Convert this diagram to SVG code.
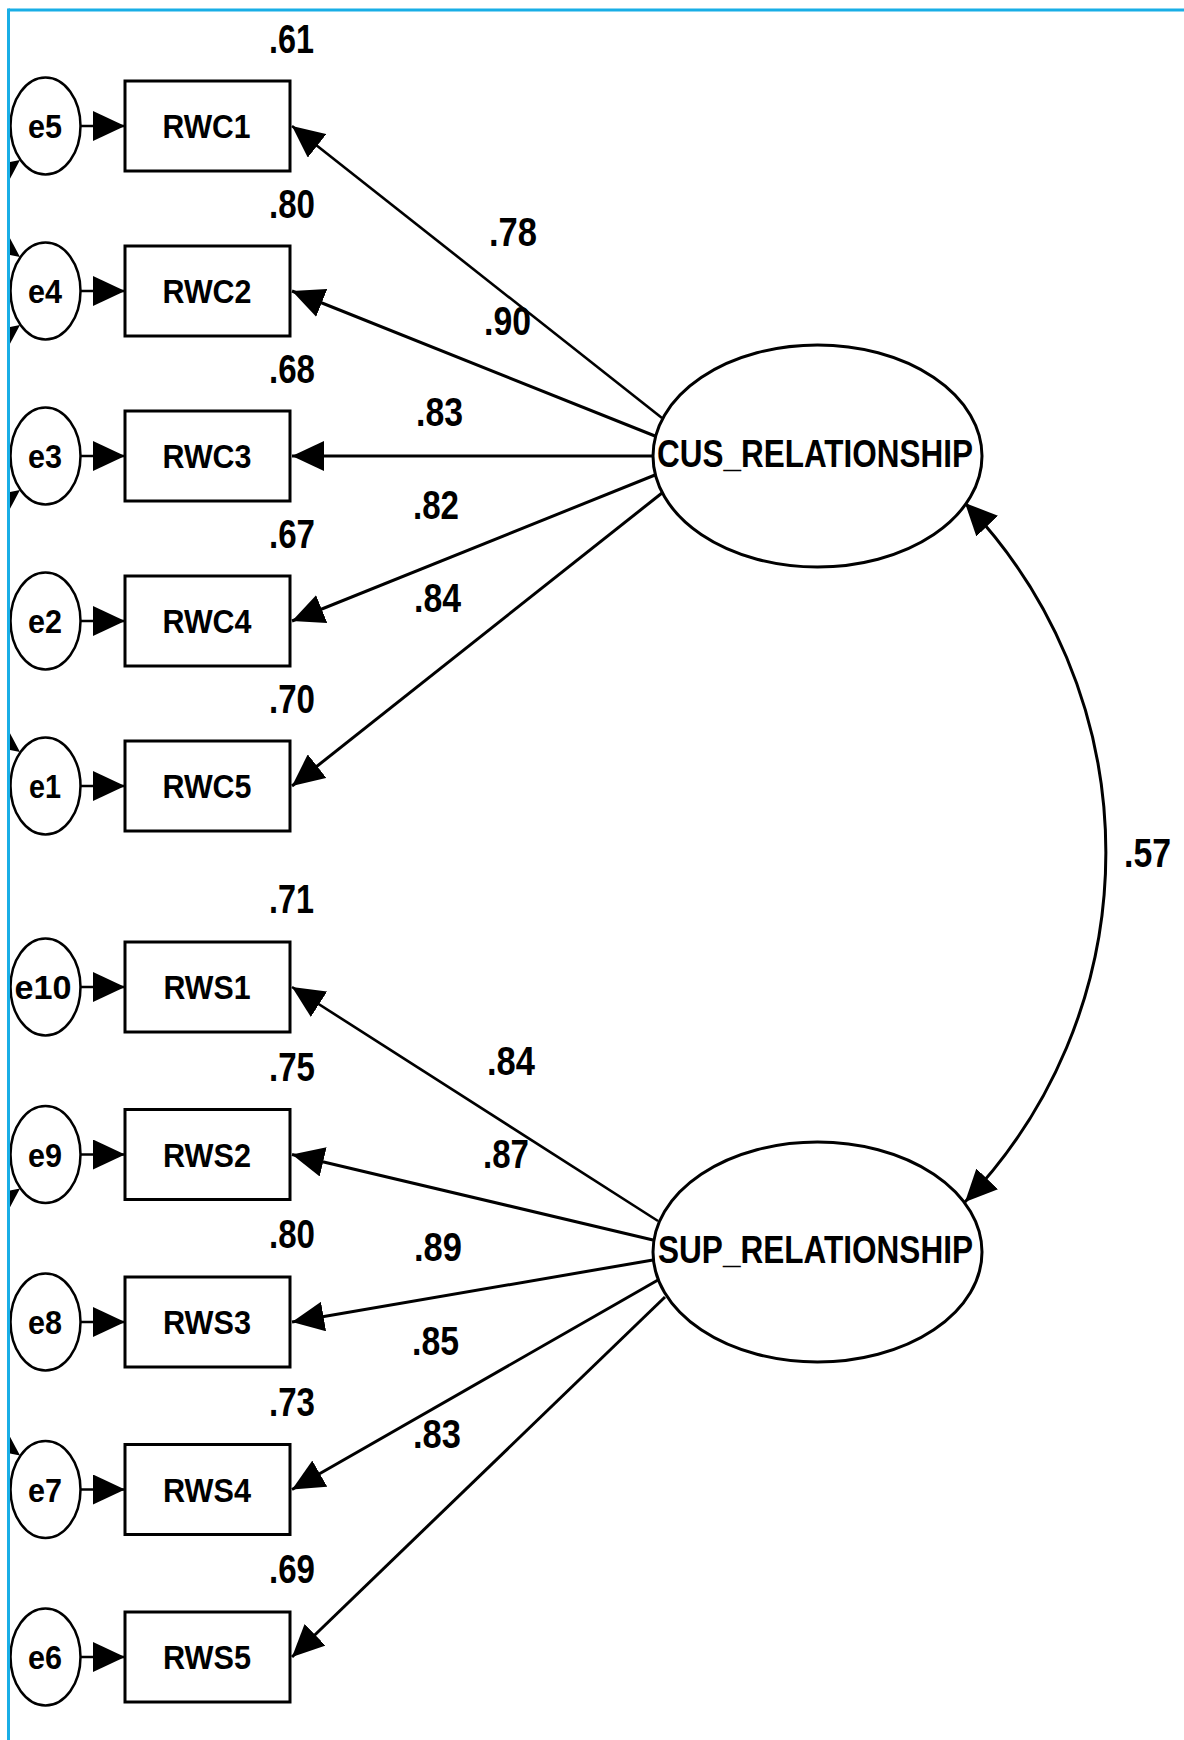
<svg xmlns="http://www.w3.org/2000/svg" width="1184" height="1740" viewBox="0 0 1184 1740">
  <style>
    .box { fill: #fff; stroke: #000; stroke-width: 3; }
    .err { fill: #fff; stroke: #000; stroke-width: 2.5; }
    .lat { fill: #fff; stroke: #000; stroke-width: 3; }
    .t { font-family: "Liberation Sans", Arial, sans-serif; font-weight: bold; fill: #000; }
    .lbl { font-size: 34px; text-anchor: middle; }
    .num { font-size: 41px; }
    .big { font-size: 38px; text-anchor: middle; }
    .path { fill: none; stroke: #000; stroke-width: 3; marker-end: url(#head); }
    .thin { stroke-width: 2.6; }
    .eline { fill: none; stroke: #000; stroke-width: 2.5; marker-end: url(#head); }
    .frame { stroke: #19aee6; stroke-width: 3; fill: none; }
  </style>
  <defs>
    <marker id="head" viewBox="0 0 32 30" refX="32" refY="15" markerWidth="32" markerHeight="30" markerUnits="userSpaceOnUse" orient="auto-start-reverse">
      <path d="M0,0 L32,15 L0,30 Z" fill="#000"/>
    </marker>
    <clipPath id="inside">
      <rect x="10" y="0" width="1174" height="1740"/>
    </clipPath>
  </defs>

  <rect x="0" y="0" width="1184" height="1740" fill="#fff"/>

  <!-- heads of error covariances that run off the left edge -->
  <g id="offpage-heads" clip-path="url(#inside)" fill="#000">
    <polygon points="20,160 -14.6,167.2 3.4,191.2"/>
    <polygon points="20,257 -14.6,249.8 3.4,225.8"/>
    <polygon points="20,325 -14.6,332.2 3.4,356.2"/>
    <polygon points="20,490 -14.6,497.2 3.4,521.2"/>
    <polygon points="20,752 -14.6,744.8 3.4,720.8"/>
    <polygon points="20,1188.5 -14.6,1195.7 3.4,1219.7"/>
    <polygon points="20,1455.5 -14.6,1448.3 3.4,1424.3"/>
  </g>

  <!-- connectors -->
  <g id="connectors">
    <!-- error terms to indicators -->
    <line class="eline" x1="81" y1="126" x2="125" y2="126"/>
    <line class="eline" x1="81" y1="291" x2="125" y2="291"/>
    <line class="eline" x1="81" y1="456" x2="125" y2="456"/>
    <line class="eline" x1="81" y1="621" x2="125" y2="621"/>
    <line class="eline" x1="81" y1="786" x2="125" y2="786"/>
    <line class="eline" x1="81" y1="987" x2="125" y2="987"/>
    <line class="eline" x1="81" y1="1154.5" x2="125" y2="1154.5"/>
    <line class="eline" x1="81" y1="1322" x2="125" y2="1322"/>
    <line class="eline" x1="81" y1="1489.5" x2="125" y2="1489.5"/>
    <line class="eline" x1="81" y1="1657" x2="125" y2="1657"/>

    <!-- CUS_RELATIONSHIP loadings -->
    <line class="path thin" x1="662" y1="418" x2="292" y2="126"/>
    <line class="path" x1="655" y1="436" x2="292" y2="291"/>
    <line class="path" x1="653" y1="456" x2="292" y2="456"/>
    <line class="path" x1="655" y1="475" x2="292" y2="621"/>
    <line class="path" x1="662" y1="493" x2="292" y2="786"/>

    <!-- SUP_RELATIONSHIP loadings -->
    <line class="path thin" x1="658" y1="1221" x2="292" y2="987"/>
    <line class="path" x1="653" y1="1240" x2="292" y2="1154.5"/>
    <line class="path" x1="653" y1="1260" x2="292" y2="1322"/>
    <line class="path" x1="658" y1="1280" x2="292" y2="1489.5"/>
    <line class="path" x1="665" y1="1297" x2="292" y2="1657"/>

    <!-- factor covariance -->
    <path d="M965,503 A504,504 0 0 1 965,1202" fill="none" stroke="#000" stroke-width="3" marker-start="url(#head)" marker-end="url(#head)"/>
  </g>

  <!-- loading and correlation values -->
  <g id="estimates" class="t num">
    <text x="489" y="246" textLength="48" lengthAdjust="spacingAndGlyphs">.78</text>
    <text x="484" y="335" textLength="47" lengthAdjust="spacingAndGlyphs">.90</text>
    <text x="416" y="426" textLength="47" lengthAdjust="spacingAndGlyphs">.83</text>
    <text x="413" y="519" textLength="46" lengthAdjust="spacingAndGlyphs">.82</text>
    <text x="414" y="612" textLength="47" lengthAdjust="spacingAndGlyphs">.84</text>
    <text x="487" y="1075" textLength="48" lengthAdjust="spacingAndGlyphs">.84</text>
    <text x="483" y="1168" textLength="46" lengthAdjust="spacingAndGlyphs">.87</text>
    <text x="414" y="1261" textLength="48" lengthAdjust="spacingAndGlyphs">.89</text>
    <text x="412" y="1355" textLength="47" lengthAdjust="spacingAndGlyphs">.85</text>
    <text x="413" y="1448" textLength="48" lengthAdjust="spacingAndGlyphs">.83</text>
    <text x="1124" y="867" textLength="47" lengthAdjust="spacingAndGlyphs">.57</text>
  </g>

  <!-- latent factors -->
  <g id="CUS_RELATIONSHIP">
    <ellipse class="lat" cx="817.5" cy="456" rx="164.5" ry="111"/>
    <text class="t big" x="815" y="467" textLength="316" lengthAdjust="spacingAndGlyphs">CUS_RELATIONSHIP</text>
  </g>
  <g id="SUP_RELATIONSHIP">
    <ellipse class="lat" cx="817.5" cy="1252" rx="164.5" ry="110"/>
    <text class="t big" x="815.5" y="1263" textLength="315" lengthAdjust="spacingAndGlyphs">SUP_RELATIONSHIP</text>
  </g>

  <!-- customer indicators -->
  <g id="RWC1">
    <rect class="box" x="125" y="81" width="165" height="90"/>
    <text class="t lbl" x="206.5" y="138" textLength="88" lengthAdjust="spacingAndGlyphs">RWC1</text>
    <text class="t num" x="269" y="53" textLength="45" lengthAdjust="spacingAndGlyphs">.61</text>
  </g>
  <g id="RWC2">
    <rect class="box" x="125" y="246" width="165" height="90"/>
    <text class="t lbl" x="207" y="303" textLength="89" lengthAdjust="spacingAndGlyphs">RWC2</text>
    <text class="t num" x="269" y="218" textLength="46" lengthAdjust="spacingAndGlyphs">.80</text>
  </g>
  <g id="RWC3">
    <rect class="box" x="125" y="411" width="165" height="90"/>
    <text class="t lbl" x="207" y="468" textLength="89" lengthAdjust="spacingAndGlyphs">RWC3</text>
    <text class="t num" x="269" y="383" textLength="46" lengthAdjust="spacingAndGlyphs">.68</text>
  </g>
  <g id="RWC4">
    <rect class="box" x="125" y="576" width="165" height="90"/>
    <text class="t lbl" x="207" y="633" textLength="89" lengthAdjust="spacingAndGlyphs">RWC4</text>
    <text class="t num" x="269" y="548" textLength="46" lengthAdjust="spacingAndGlyphs">.67</text>
  </g>
  <g id="RWC5">
    <rect class="box" x="125" y="741" width="165" height="90"/>
    <text class="t lbl" x="207" y="798" textLength="89" lengthAdjust="spacingAndGlyphs">RWC5</text>
    <text class="t num" x="269" y="713" textLength="46" lengthAdjust="spacingAndGlyphs">.70</text>
  </g>

  <!-- supplier indicators -->
  <g id="RWS1">
    <rect class="box" x="125" y="942" width="165" height="90"/>
    <text class="t lbl" x="207" y="999" textLength="87" lengthAdjust="spacingAndGlyphs">RWS1</text>
    <text class="t num" x="269" y="913" textLength="45" lengthAdjust="spacingAndGlyphs">.71</text>
  </g>
  <g id="RWS2">
    <rect class="box" x="125" y="1109.5" width="165" height="90"/>
    <text class="t lbl" x="207" y="1166.5" textLength="88" lengthAdjust="spacingAndGlyphs">RWS2</text>
    <text class="t num" x="269" y="1080.5" textLength="46" lengthAdjust="spacingAndGlyphs">.75</text>
  </g>
  <g id="RWS3">
    <rect class="box" x="125" y="1277" width="165" height="90"/>
    <text class="t lbl" x="207" y="1334" textLength="88" lengthAdjust="spacingAndGlyphs">RWS3</text>
    <text class="t num" x="269" y="1248" textLength="46" lengthAdjust="spacingAndGlyphs">.80</text>
  </g>
  <g id="RWS4">
    <rect class="box" x="125" y="1444.5" width="165" height="90"/>
    <text class="t lbl" x="207" y="1501.5" textLength="88" lengthAdjust="spacingAndGlyphs">RWS4</text>
    <text class="t num" x="269" y="1415.5" textLength="46" lengthAdjust="spacingAndGlyphs">.73</text>
  </g>
  <g id="RWS5">
    <rect class="box" x="125" y="1612" width="165" height="90"/>
    <text class="t lbl" x="207" y="1669" textLength="88" lengthAdjust="spacingAndGlyphs">RWS5</text>
    <text class="t num" x="269" y="1583" textLength="46" lengthAdjust="spacingAndGlyphs">.69</text>
  </g>

  <!-- error terms -->
  <g id="e5"><ellipse class="err" cx="45.5" cy="126" rx="35" ry="48.5"/><text class="t lbl" x="45" y="138" textLength="34" lengthAdjust="spacingAndGlyphs">e5</text></g>
  <g id="e4"><ellipse class="err" cx="45.5" cy="291" rx="35" ry="48.5"/><text class="t lbl" x="45" y="303" textLength="34" lengthAdjust="spacingAndGlyphs">e4</text></g>
  <g id="e3"><ellipse class="err" cx="45.5" cy="456" rx="35" ry="48.5"/><text class="t lbl" x="45" y="468" textLength="34" lengthAdjust="spacingAndGlyphs">e3</text></g>
  <g id="e2"><ellipse class="err" cx="45.5" cy="621" rx="35" ry="48.5"/><text class="t lbl" x="45" y="633" textLength="34" lengthAdjust="spacingAndGlyphs">e2</text></g>
  <g id="e1"><ellipse class="err" cx="45.5" cy="786" rx="35" ry="48.5"/><text class="t lbl" x="45" y="798" textLength="32" lengthAdjust="spacingAndGlyphs">e1</text></g>
  <g id="e10"><ellipse class="err" cx="45.5" cy="987" rx="35" ry="48.5"/><text class="t lbl" x="43" y="999" textLength="57" lengthAdjust="spacingAndGlyphs">e10</text></g>
  <g id="e9"><ellipse class="err" cx="45.5" cy="1154.5" rx="35" ry="48.5"/><text class="t lbl" x="45" y="1166.5" textLength="34" lengthAdjust="spacingAndGlyphs">e9</text></g>
  <g id="e8"><ellipse class="err" cx="45.5" cy="1322" rx="35" ry="48.5"/><text class="t lbl" x="45" y="1334" textLength="34" lengthAdjust="spacingAndGlyphs">e8</text></g>
  <g id="e7"><ellipse class="err" cx="45.5" cy="1489.5" rx="35" ry="48.5"/><text class="t lbl" x="45" y="1501.5" textLength="34" lengthAdjust="spacingAndGlyphs">e7</text></g>
  <g id="e6"><ellipse class="err" cx="45.5" cy="1657" rx="35" ry="48.5"/><text class="t lbl" x="45" y="1669" textLength="34" lengthAdjust="spacingAndGlyphs">e6</text></g>

  <!-- frame edges -->
  <g id="frame">
    <line class="frame" x1="8.5" y1="10" x2="1184" y2="10"/>
    <line class="frame" x1="8.5" y1="8.5" x2="8.5" y2="1740"/>
  </g>
</svg>
